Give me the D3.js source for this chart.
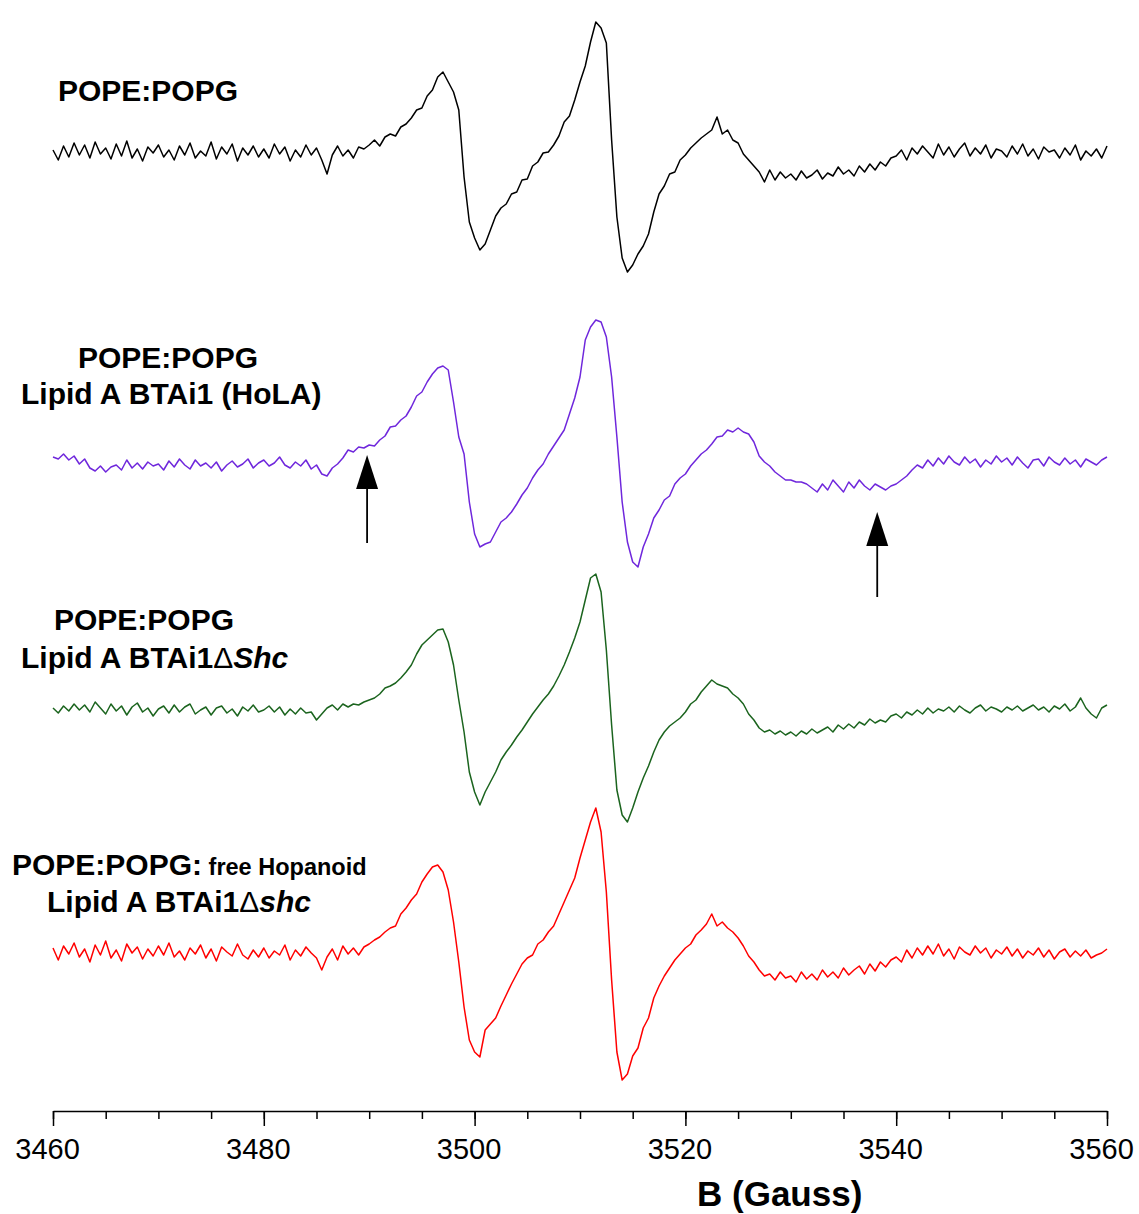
<!DOCTYPE html>
<html lang="en">
  <head>
    <meta charset="utf-8">
    <title>EPR spectra</title>
    <script src="https://cdn.jsdelivr.net/npm/d3@7"></script>
    <style>
      body { margin: 0; background: #fff; }
      text { font-family: "Liberation Sans", Arial, sans-serif; }
      .axis text { font-size: 29px; }
      .axis path, .axis line { stroke: #000; stroke-width: 1.5px; }
    </style>
  </head>
  <body>
    <script>

      // field axis: 3460 G .. 3560 G sampled every 0.5 G
      var fieldStart = 3460, fieldEnd = 3560, fieldStep = 0.5;
      var majorTicks = [3460, 3480, 3500, 3520, 3540, 3560];

      // signal amplitudes (a.u., baseline = 0)
      var popePopg = [
        2,-8,6,-5,9,-3,7,-6,10,-2,4,-7,8,-4,11,-6,3,-9,5,-1,
        7,-5,2,-8,6,-3,9,-6,1,-4,10,-7,5,-2,8,-9,4,-3,6,-5,
        3,-6,8,-2,5,-9,2,-5,7,-3,4,-8,-22,-3,6,-4,2,-6,5,3,
        7,12,6,15,18,16,25,28,34,42,44,56,62,75,80,70,60,42,-25,-70,
        -86,-98,-92,-78,-64,-56,-52,-42,-40,-28,-27,-14,-10,-1,0,7,16,30,36,52,
        70,86,110,130,124,109,12,-65,-106,-120,-113,-102,-94,-82,-60,-42,-34,-22,-20,-8,
        -3,4,9,14,18,22,35,18,22,12,9,-2,-8,-14,-20,-30,-18,-28,-20,-26,
        -22,-28,-19,-26,-23,-18,-27,-21,-24,-15,-22,-18,-24,-14,-20,-12,-18,-10,-14,-6,
        -4,2,-8,4,-2,6,0,-6,8,-3,5,-5,3,9,-4,4,-2,7,-6,3,
        1,-5,6,-2,8,-4,3,-7,5,0,2,-6,4,-3,7,-8,1,-4,3,-6,
        6
      ];

      var hola = [
        5,3,8,2,6,-2,3,-6,-9,-4,-10,-5,-3,-8,2,-6,-1,-7,0,-4,
        -2,-8,1,-5,3,-3,-7,2,-4,-1,-6,0,-9,-3,1,-5,-2,3,-6,-1,
        2,-4,-1,5,-3,-6,0,-4,2,-7,-3,-12,-14,-6,-2,4,12,10,15,14,
        17,16,22,26,35,36,42,46,55,66,70,80,88,94,96,92,60,25,8,-40,
        -72,-85,-82,-80,-70,-60,-56,-50,-42,-33,-26,-16,-8,-2,8,16,24,32,48,64,
        85,122,135,142,140,125,85,25,-40,-80,-100,-105,-85,-72,-56,-48,-38,-34,-22,-16,
        -12,-4,2,8,12,18,25,26,32,30,34,30,28,20,6,0,-4,-10,-14,-18,
        -18,-20,-20,-22,-26,-30,-22,-28,-18,-24,-30,-20,-26,-18,-24,-28,-22,-25,-28,-24,
        -22,-18,-14,-8,-3,-6,2,-4,4,-2,6,0,-3,5,-1,3,-5,2,-2,6,
        0,4,-3,5,-1,-6,2,3,-4,5,0,-3,4,-2,2,-5,3,0,-3,2,
        5
      ];

      var deltaShc = [
        2,-3,4,-1,6,0,5,-2,8,2,-4,6,-1,4,-5,3,7,-2,2,-6,
        1,4,-3,5,-2,3,6,-4,0,3,-5,2,4,-3,1,-6,3,-1,5,-2,
        0,4,-2,3,-5,1,-4,2,-3,-2,-10,-4,2,5,0,6,3,6,5,8,
        10,12,16,22,24,27,32,38,45,56,65,70,75,80,81,68,45,10,-22,-62,
        -82,-95,-82,-72,-62,-50,-42,-35,-27,-20,-12,-4,3,10,16,24,34,45,58,72,
        88,110,132,136,118,60,-15,-80,-105,-112,-98,-82,-68,-56,-42,-30,-22,-16,-12,-8,
        -2,6,10,18,24,30,26,24,22,16,12,6,-4,-10,-18,-22,-20,-24,-21,-25,
        -22,-26,-21,-24,-19,-23,-20,-17,-22,-15,-19,-14,-18,-12,-15,-9,-13,-10,-12,-6,
        -4,-8,-2,-5,0,-4,2,-3,1,-1,3,-2,4,0,-3,2,5,-1,3,1,
        -2,3,0,4,-1,2,5,0,3,-2,4,1,6,-1,3,12,2,-4,-8,2,
        5
      ];

      var freeHop = [
        4,-8,6,-2,9,-5,3,-10,7,-3,11,-6,2,-9,8,-1,5,-7,3,-4,
        6,-3,9,-5,1,-8,4,-2,7,-6,3,-9,5,0,-4,8,-3,-7,2,-5,
        4,-6,1,-3,7,-8,2,-4,5,-1,-6,-18,-5,3,-8,6,-2,4,-3,5,
        8,12,15,20,24,26,38,44,52,58,70,78,85,87,80,62,30,-10,-55,-88,
        -100,-105,-78,-72,-66,-54,-43,-32,-22,-12,-6,-3,8,12,20,26,38,50,62,74,
        94,112,130,144,120,60,-28,-100,-128,-122,-104,-96,-76,-66,-46,-34,-24,-16,-8,-2,
        4,8,17,22,28,38,26,30,24,20,14,6,-4,-10,-18,-24,-22,-28,-20,-26,
        -24,-30,-20,-27,-22,-28,-18,-25,-20,-26,-16,-23,-18,-14,-22,-12,-19,-10,-15,-8,
        -5,-10,2,-6,4,-3,6,-2,8,-4,3,-7,5,0,-3,6,-1,4,-6,2,
        -2,5,-4,3,-6,1,-3,4,-5,2,-7,0,3,-5,1,-4,2,-6,-3,-1,
        3
      ];

      // arrows on the HoLA trace: field, tip and tail amplitude
      var arrowFields = [3489.8, 3538.2];
      var arrowTips = [7, -50];
      var arrowTails = [-81, -135];

      var w = 1139, h = 1214;

      var fields = d3.range(0, popePopg.length).map(function(i) { return fieldStart + i * fieldStep; });

      var traces = [
        { values: popePopg, color: "#000000", base: 152 },
        { values: hola,     color: "#6f27dc", base: 462 },
        { values: deltaShc, color: "#1b641e", base: 710 },
        { values: freeHop,  color: "#ff0000", base: 952 }
      ];

      var xScale = d3.scaleLinear()
                     .domain([fieldStart, fieldEnd])
                     .range([53, 1107]);

      var svg = d3.select("body")
                  .append("svg")
                  .attr("width", w)
                  .attr("height", h);

      traces.forEach(function(t) {
        t.yScale = d3.scaleLinear()
                     .domain([-150, 150])
                     .range([t.base + 150, t.base - 150]);

        var line = d3.line()
                     .x(function(d, i) { return xScale(fields[i]); })
                     .y(function(d) { return t.yScale(d); });

        svg.append("path")
           .datum(t.values)
           .attr("fill", "none")
           .attr("stroke", t.color)
           .attr("stroke-width", 1.5)
           .attr("stroke-linejoin", "round")
           .attr("d", line);
      });

      //Arrows
      var hy = traces[1].yScale;
      arrowFields.forEach(function(f, i) {
        var x = xScale(f), tip = hy(arrowTips[i]), tail = hy(arrowTails[i]);
        svg.append("line")
           .attr("x1", x).attr("x2", x)
           .attr("y1", tip + 30).attr("y2", tail)
           .attr("stroke", "#000")
           .attr("stroke-width", 1.8);
        svg.append("path")
           .attr("d", "M" + x + "," + tip + "L" + (x + 11) + "," + (tip + 34) + "L" + (x - 11) + "," + (tip + 34) + "Z")
           .attr("fill", "#000");
      });

      //Labels
      function label(x, y, parts, size) {
        var t = svg.append("text")
                   .attr("x", x).attr("y", y)
                   .attr("font-size", size || 30)
                   .attr("font-weight", "bold");
        parts.forEach(function(p) {
          var s = t.append("tspan").text(p.t);
          if (p.italic) s.attr("font-style", "italic");
          if (p.normal) s.attr("font-weight", "normal");
          if (p.size) s.attr("font-size", p.size);
        });
      }

      label(58, 101, [{ t: "POPE:POPG" }]);

      label(78, 368, [{ t: "POPE:POPG" }]);
      label(21, 404, [{ t: "Lipid A BTAi1 (HoLA)" }]);

      label(54, 630, [{ t: "POPE:POPG" }]);
      label(21, 668, [{ t: "Lipid A BTAi1" }, { t: "\u0394", normal: true }, { t: "Shc", italic: true }]);

      label(12, 875, [{ t: "POPE:POPG:" }, { t: " free Hopanoid", size: 23.5 }]);
      label(47, 912, [{ t: "Lipid A BTAi1" }, { t: "\u0394", normal: true }, { t: "shc", italic: true }]);

      //Axis
      var minorAxis = d3.axisBottom(xScale)
                        .tickValues(d3.range(fieldStart, fieldEnd + 1, 5))
                        .tickSize(8)
                        .tickSizeOuter(0)
                        .tickFormat("");

      var majorAxis = d3.axisBottom(xScale)
                        .tickValues(majorTicks)
                        .tickSize(15)
                        .tickSizeOuter(0)
                        .tickPadding(12)
                        .tickFormat(d3.format("d"));

      svg.append("g")
         .attr("class", "axis")
         .attr("transform", "translate(0,1111)")
         .call(minorAxis);

      var gx = svg.append("g")
                  .attr("class", "axis")
                  .attr("transform", "translate(0,1111)")
                  .call(majorAxis);
      gx.select(".domain").remove();
      gx.selectAll("text").attr("fill", "#000").attr("dx", -6);

      svg.append("text")
         .attr("x", 697)
         .attr("y", 1206)
         .attr("font-size", 35)
         .attr("font-weight", "bold")
         .text("B (Gauss)");

    </script>
  </body>
</html>
